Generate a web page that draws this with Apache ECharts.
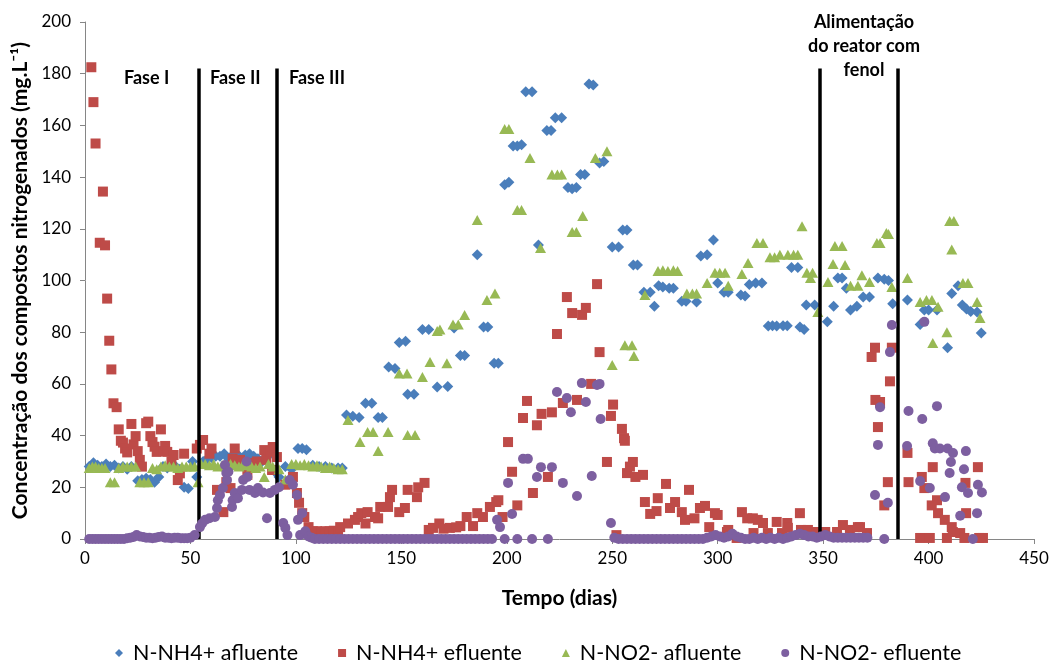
<!DOCTYPE html>
<html><head><meta charset="utf-8">
<script src="https://cdn.jsdelivr.net/npm/echarts@6/dist/echarts.min.js"></script>
<style>html,body{margin:0;padding:0;background:#fff}#c{width:1054px;height:664px}</style>
</head><body><div id="c"></div>
<script>
// ---- data ----
const seriesNames = ['N-NH4+ afluente', 'N-NH4+ efluente', 'N-NO2- afluente', 'N-NO2- efluente'];
const xTitle = 'Tempo (dias)';
const yTitle = 'Concentração dos compostos nitrogenados (mg.L\u207B\u00B9)';
const phaseLines = [54, 91, 348.5, 385.2];
const phaseLineTop = 182;
const phaseLabels = ['Fase I', 'Fase II', 'Fase III'];
const feedLabel = 'Alimentação\ndo reator com\nfenol';

const nh4Afl = [[2,28],[4,29.5],[6,28.5],[8,28],[10,29],[12,28],[14,28.5],[16,27.5],[18,28],[20,27],[22,28],[25,22.5],[27,23],[29,23.5],[31,23],[33,22],[35,24],[37,28],[39,27.5],[41,28.5],[43,28],[45,27],[47,20],[49,19.5],[51,30],[53,24],[56,30],[58,31],[60,31.5],[62,32],[64,32],[66,33],[68,31],[70,32.5],[72,33],[74,31],[76,32.5],[78,33],[80,32],[82,31],[84,30],[86,32],[88,33],[90,26],[92,24],[95,28],[98,27],[101,35],[103,35],[105,34.5],[108,28.5],[111,28],[114,28],[117,27.5],[120,27.5],[122,27.5],[124,48],[127,47.5],[130,47],[133,52.5],[136,52.5],[139,47],[141,47],[144,66.5],[147,66],[149,76],[152,76.5],[153,56],[156,56],[160,81],[163,81],[167,58.8],[172,59],[175,81.6],[178,71],[180,71],[186,110],[189,82],[191,82],[194,68],[196,68],[199,137],[201,138],[203,152],[205,152],[207,152.5],[209,173],[212,173],[215,113.7],[219,158],[221,158],[223,163],[226,163],[229,136],[231,135.5],[233,136],[235,141],[237,141],[239,176],[241,175.6],[244,145.5],[246,146],[250,113],[253,113],[255,119.5],[257,119.5],[260,106],[262,106],[265,95.5],[268,95.5],[270,90],[272,98],[274,97.5],[277,97],[279,97],[283,92],[285,92],[290,91.7],[292,109.5],[295,110],[298,115.7],[300,99],[303,95.5],[305,95.5],[311,94.4],[313,94],[315,98.5],[318,99],[321,99],[324,82.4],[326,82.5],[328,82.4],[331,82.5],[333,82.5],[335,105],[338,105],[339,82],[341,81],[342,90.5],[346,90.5],[352,84],[355,90],[357,101],[359,101],[361,97],[363,88.6],[366,90],[369,93.6],[372,93.6],[376,101],[379,100.5],[381,100],[383,91],[390,92.5],[396,83],[398,88.6],[400,88.6],[404,88.6],[409,74],[411,95],[414,98],[416,90.5],[418,89],[420,88],[423,87.8],[425,79.7]];

const nh4Efl = [[3,182.5],[4,169],[5,153],[7,114.6],[8.5,134.4],[9.5,113.6],[10.5,93],[11.5,76.7],[12.5,65.6],[13.5,52.5],[15,51],[16,42.4],[17,38],[18,37.3],[19,35],[20,33.5],[22,44.5],[23,36.6],[24,39.8],[25,34],[26,30.6],[27,28],[29,44.8],[30,45.4],[31,39.8],[32,37.5],[33,35.7],[34,33.7],[36,42.4],[37,34],[38,36],[39,33.7],[41,30],[42,32.5],[44,22.8],[45,25.4],[47,33],[53,35],[54.5,36.4],[56,38.3],[59,33],[60,35],[62.6,19],[65.6,10.4],[67,22],[69,19.7],[70,31],[71,35],[73.5,30.6],[77,24.8],[78,29.4],[81.5,30],[85,34.4],[86,30.6],[88,33.7],[88.7,26.7],[89,35.6],[91,31.7],[95,21],[98.6,24],[100.5,17.8],[101.5,14],[103,10],[104,8.5],[106,4.6],[108,3],[110,3],[112,2.8],[114,3],[116,3],[118,3.2],[120,3],[121,4.6],[124.7,6],[128,7.4],[129.5,8.5],[131,10],[133,6],[134,10.4],[137.5,8.5],[139,8],[140,12.4],[143.7,12.4],[144.6,16.2],[145.6,19],[149,10.4],[151.7,12],[153,19],[157.4,16.2],[158,20],[161,21.7],[163,3.5],[165,4.3],[168,6],[170,4],[173,4.3],[176,4.5],[178,5],[181,8.5],[184,5],[186,10],[188.7,8.5],[192,12.4],[195,14.3],[196,15],[198,8.5],[200.6,37.5],[202.5,26],[205,13],[207.7,46.8],[209.6,53.4],[212.4,17.8],[214.3,44],[216.5,48.4],[219.5,24],[221.4,49],[223.8,79.3],[226.6,52.6],[228.5,93.6],[231,87.4],[233.3,53.8],[235.7,86.7],[237.5,89.4],[240,60],[242.8,98.6],[244,72.3],[247.5,29.8],[249.4,47.6],[250.4,52],[252,1.5],[254.6,42.6],[255.6,39],[256,38],[257,25.5],[258.4,28],[259.8,29.8],[261,24],[264.6,24.8],[265.5,14.3],[268,9.7],[271,10.8],[271.6,15.8],[275.5,21.3],[277.4,12],[279.8,14.3],[283,10.4],[284.5,7.4],[286.4,19],[289,8],[291.6,12],[294,12.8],[296,4.6],[298.7,10],[300,9.3],[304.4,2.7],[305,3.5],[309,0.4],[311.5,10.4],[314,8],[316.7,8],[317,2.3],[319,7.4],[321.5,6.2],[323.8,2.3],[328,6.6],[330.5,2.3],[333,6.2],[333.3,4.3],[339,10],[339.5,3.5],[342.8,3.5],[347,2.7],[351,2.7],[356.6,2.7],[359.4,5.4],[362.7,3.5],[366.5,4.6],[367.5,4.6],[370.8,2.3],[373,70.4],[374.6,74],[374.8,53.8],[376,43.3],[377,53],[379,13],[380.7,22],[381.7,61],[382.6,74],[390,33.3],[390.5,22],[396,0.4],[396.8,24],[398,19.7],[400.6,0.4],[402,27.8],[401.5,13],[404,15],[404.5,10],[407.7,7.4],[408.7,0.4],[411,4.6],[411.5,2.7],[415,2.3],[417,0.4],[417.5,21.7],[417.8,10],[423.4,27.8],[424,0.4],[425.8,0.4]];

const no2Afl = [[2,27.5],[3.5,28],[5,28],[6.5,27.5],[8,27.5],[9.5,27.5],[12,22],[14,22],[16,27.5],[18,28],[20,28],[22,28],[24,28],[26,22],[28,22],[30,22],[32,27.5],[34,27],[36,28],[38,28.5],[40,28],[42,28],[44,27.5],[46,28],[48,28],[50,28],[52,28],[53.6,22],[55,29],[57,29],[59,28.5],[61,29],[63,28],[65,28.5],[67,28],[69,29],[71,28.5],[73,28],[75,29],[77,28.5],[79,28],[81,27.5],[83,28],[85,24],[87,29],[89,28],[92,27],[95,23],[98,29],[100,29],[102,28.5],[104,29],[106,28.5],[108,28],[110,28.5],[112,28],[114,27.5],[116,28],[118,27.5],[120,27],[122,27],[124.7,46],[130.4,37.5],[134,41.4],[136.6,41.4],[139,34],[143.7,41.4],[149,64],[152.7,64],[153,40.2],[156.5,40.2],[160,62.7],[163.6,68.5],[167,80.5],[168.3,81],[171.6,68],[174.5,83],[177,83],[180,86.7],[186,123.4],[190.6,92.5],[194.4,95],[199,158.6],[201,158.6],[205,127.3],[207,127.3],[211,147.4],[216,112.6],[221.4,141],[224,141],[226,141],[231,118.8],[233,118.8],[236,125],[242,147.4],[247.5,150],[250,67.3],[256,75],[259.4,75],[260.3,70.8],[265.5,94.4],[271.7,103.7],[274,104],[276.4,103.7],[279,104],[281,103.7],[285.4,95],[288,95],[290,95],[295,99],[298.7,103],[301,103],[303.5,103],[305,98],[311.5,102.5],[314.4,106.8],[318.6,114.5],[321.5,114.5],[324.8,109],[327,109],[329.5,110],[333.3,110],[336,110],[338,110],[340,121],[342.3,103],[344,101],[345,103],[347.5,87.8],[352.3,99.4],[354.7,106.4],[355.6,113.3],[359,113.3],[360.4,106],[363,98],[366.5,98],[368.4,102],[372,99.4],[375.5,114.5],[377,114.5],[380,118.4],[381,118],[382.6,97.5],[390,101],[396,91.7],[399,92.5],[401.6,92.5],[402,75.8],[404.5,89.8],[408.7,80],[410,123],[412,123],[411,112],[416.3,99],[418.7,99],[423,91.7],[424.4,85.5]];

const no2Efl = [[2,0],[3.5,0],[5,0],[6.5,0],[8,0],[9.5,0],[11,0],[12.5,0],[14,0],[15.5,0],[17,0],[18.5,0],[20,0.3],[21.5,0.5],[23,0.8],[24.5,1.5],[26,1],[27.5,0.8],[29,0.5],[30.5,0.5],[32,0.3],[33.5,0.5],[35,0.8],[36.5,1],[38,0.5],[39.5,0.5],[41,0.3],[42.5,0.5],[44,0.5],[45.5,0.3],[47,0.3],[48.5,0.3],[50,0.5],[52,1.5],[54.5,4.6],[55.5,6],[57,7.4],[59,8],[61.6,8.5],[62.6,12],[63,15],[64,17],[65.4,19.7],[66.4,28.6],[67,25.5],[67.3,22.8],[68,26],[69.7,12.4],[70,15],[71,17.8],[72.5,15.8],[74.4,19],[75,22.8],[76.6,30],[77,24],[78,19],[80.6,17.8],[82,19.7],[84.4,18],[86.3,8],[87.7,17.8],[90,19],[92,20],[94,6.2],[95,4.3],[96,1.5],[97,22.8],[98.6,21],[100.5,17],[101,7.4],[102,1.5],[103,10],[104.5,3],[106,1],[107.5,0.5],[109,0],[111,0],[113,0],[115,0],[117,0],[119,0],[121,0],[123,0],[125,0],[127,0],[129,0],[131,0],[133,0],[135,0],[137,0],[139,0],[141,0],[143,0],[145,0],[147,0],[149,0],[151,0],[153,0],[155,0],[157,0],[159,0],[161,0],[163,0],[165,0],[167,0],[169,0],[171,0],[173,0],[175,0],[177,0],[179,0],[181,0],[183,0],[185,0],[187,0],[189,0],[191,0],[193,0],[195.4,7.4],[196.8,4.6],[199,0],[200.6,21.7],[202.5,9.7],[205,0],[207.7,31],[210,31],[212,0],[214.3,24],[216.2,27.8],[219.5,0],[221.4,27.8],[223.8,56.9],[226.6,21.7],[228.5,54.5],[230.4,49],[233.3,16.6],[235.6,60.3],[237.5,53],[240.3,24.4],[242.8,59.6],[244,60],[244.5,46.4],[249.4,6.2],[251,0.5],[253,0],[255,0],[257,0],[259,0],[261,0],[263,0],[265,0],[267,0],[269,0],[271,0],[273,0],[275,0],[277,0],[279,0],[281,0],[283,0],[285,0],[287,0],[289,0],[291,0],[293,0],[295,0.5],[297,1],[299,1.5],[301,1],[303,0.5],[305,1],[307,2],[309,1],[311,0.5],[313,0],[315,0],[317,0.5],[319,0],[321,0.5],[323,0],[325,0.5],[327,0],[329,0.5],[331,0],[333,0.5],[335,1],[337,1.5],[339,2],[341,1.5],[343,1],[345,1],[347,0.5],[349,1],[351,1.5],[353,1],[355,0.5],[357,0.5],[359,0.5],[361,0.5],[363,0.5],[365,0.5],[367,0.5],[369,0.5],[371,0.5],[374.6,17],[376,36.4],[377,51],[379,0],[380.7,14],[381.7,72.3],[382.6,82.8],[389.8,36],[390.5,49.5],[396,22.4],[397,46.4],[398,84],[400.6,19.7],[402,37],[403,35],[404,51.4],[405.4,35],[407.8,16.2],[409,35],[410,25.5],[410.6,29.8],[411.6,33.3],[415,9],[415.8,20],[416.8,27],[417.7,34],[418.7,17.8],[421,0],[423,10],[423.4,21],[425.3,18]];

const colors = ['#4A7EBB', '#BE4B48', '#98B954', '#7D5FA0'];
const symbols = ['diamond', 'rect', 'triangle', 'circle'];
const sizes = [[11,11], 10, [11,10], 10];

const FONT = 'Lato, "Open Sans", sans-serif';
const chart = echarts.init(document.getElementById('c'), null, {renderer: 'canvas'});
const dataSets = [nh4Afl, nh4Efl, no2Afl, no2Efl];

const series = dataSets.map((d, i) => ({
  name: seriesNames[i], type: 'scatter', data: d,
  symbol: symbols[i], symbolSize: sizes[i],
  itemStyle: {color: colors[i], opacity: 1},
  z: 2 + i, animation: false
}));
series.push({
  name: 'phases', type: 'scatter', data: [], z: 10, silent: true,
  markLine: {
    silent: true, symbol: ['none', 'none'], animation: false,
    lineStyle: {color: '#000', width: 3.5, type: 'solid'},
    label: {show: false},
    data: phaseLines.map(x => [{coord: [x, 0]}, {coord: [x, phaseLineTop]}])
  }
});

chart.setOption({
  animation: false,
  backgroundColor: '#fff',
  grid: {left: 85, right: 20, top: 22, bottom: 125, containLabel: false},
  xAxis: {
    type: 'value', min: 0, max: 450, interval: 50,
    name: xTitle, nameLocation: 'middle', nameGap: 49,
    nameTextStyle: {fontFamily: FONT, fontWeight: 'bold', fontSize: 21, color: '#000'},
    axisLine: {show: true, lineStyle: {color: '#868686', width: 1}},
    axisTick: {show: true, length: 5, lineStyle: {color: '#868686'}},
    axisLabel: {fontFamily: FONT, fontSize: 17, color: '#000', margin: 11},
    splitLine: {show: false}
  },
  yAxis: {
    type: 'value', min: 0, max: 200, interval: 20,
    name: yTitle, nameLocation: 'middle', nameGap: 53, nameRotate: 90,
    nameTextStyle: {fontFamily: FONT, fontWeight: 'bold', fontSize: 21, color: '#000'},
    axisLine: {show: true, lineStyle: {color: '#868686', width: 1}},
    axisTick: {show: true, length: 5, lineStyle: {color: '#868686'}},
    axisLabel: {fontFamily: FONT, fontSize: 17, color: '#000', margin: 14},
    splitLine: {show: false}
  },
  legend: {
    data: seriesNames.map((n, i) => ({name: n, icon: symbols[i]})),
    top: 637, left: 110, itemWidth: 8, itemHeight: 8, itemGap: 40,
    textStyle: {fontFamily: FONT, fontSize: 21.5, color: '#000', padding: [0, 0, 0, 5]}
  },
  graphic: [
    {type: 'text', x: 124, y: 69, style: {text: phaseLabels[0], font: 'bold 18px ' + FONT, fill: '#000'}},
    {type: 'text', x: 210, y: 69, style: {text: phaseLabels[1], font: 'bold 18px ' + FONT, fill: '#000'}},
    {type: 'text', x: 289, y: 69, style: {text: phaseLabels[2], font: 'bold 18px ' + FONT, fill: '#000'}},
    {type: 'text', x: 864, y: 10, style: {text: feedLabel, font: 'bold 18px ' + FONT, fill: '#000', align: 'center', lineHeight: 24}}
  ],
  series: series
});
</script></body></html>
